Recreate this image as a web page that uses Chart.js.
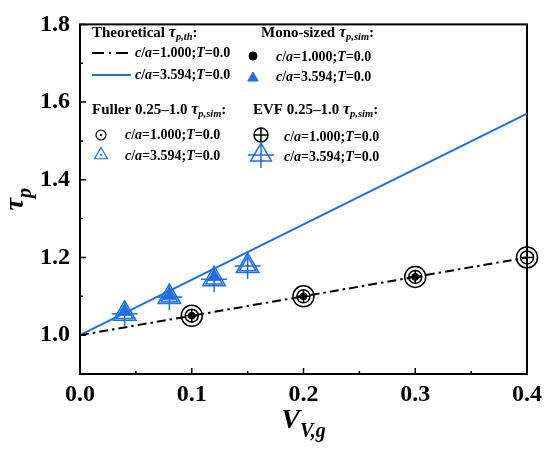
<!DOCTYPE html>
<html>
<head>
<meta charset="utf-8">
<script src="https://cdn.jsdelivr.net/npm/chart.js@4.4.1/dist/chart.umd.min.js"></script>
<style>
  html, body { margin: 0; padding: 0; background: #fff; }
  canvas { display: block; }
</style>
</head>
<body>
<canvas id="chart" width="550" height="450"></canvas>
<script>
const xTicks = [0.0, 0.1, 0.2, 0.3, 0.4];
const xMinorTicks = [0.05, 0.15, 0.25, 0.35];
const yTicks = [1.0, 1.2, 1.4, 1.6, 1.8];
const yMinorTicks = [1.1, 1.3, 1.5, 1.7];

// theoretical lines
const theoryX = [0.0, 0.4];
const theoryRound = [1.0, 1.2];    // c/a=1.000
const theoryElong = [1.0, 1.57];   // c/a=3.594

// simulations, c/a=1.000
const roundX = [0.1, 0.2, 0.3, 0.4];
const roundMono = [1.05, 1.10, 1.15];
const roundFuller = [1.05, 1.10, 1.15, 1.20];
const roundEvf = [1.05, 1.10, 1.15, 1.20];

// simulations, c/a=3.594
const elongX = [0.04, 0.08, 0.12, 0.15];
const elongMono = [1.06, 1.10, 1.15];
const elongFuller = [1.055, 1.098, 1.144, 1.178];
const elongEvf = [1.055, 1.098, 1.144, 1.178];

const groupTitles = ["Theoretical", "Mono-sized", "Fuller 0.25–1.0", "EVF 0.25–1.0"];
const groupSubs = ["p,th", "p,sim", "p,sim", "p,sim"];
const seriesLabels = ["c/a=1.000;T=0.0", "c/a=3.594;T=0.0"];

const BLUE = "#1f6fe0";
const BLACK = "#000";
const SERIF = '"Liberation Serif", "Times New Roman", serif';

const pts = (xs, ys) => ys.map((y, i) => ({ x: xs[i], y }));

function markerSet(data, color, style, radius, filled, width) {
    return {
        type: "scatter",
        data,
        pointStyle: style,
        pointRadius: radius,
        pointHoverRadius: radius,
        pointBorderColor: color,
        pointBackgroundColor: filled ? color : "transparent",
        pointBorderWidth: width,
        clip: false
    };
}

function lineSet(data, color, dash) {
    return {
        type: "line",
        data,
        borderColor: color,
        borderWidth: 2,
        borderDash: dash,
        pointRadius: 0,
        fill: false
    };
}

// legend markers, drawn the same way as chart.js point styles
function drawMarker(ctx, style, x, y, r, color, filled, lw) {
    ctx.save();
    ctx.strokeStyle = color;
    ctx.fillStyle = color;
    ctx.lineWidth = lw;
    ctx.beginPath();
    if (style === "circle") ctx.arc(x, y, r, 0, Math.PI * 2);
    else if (style === "triangle") {
        for (let k = 0; k < 3; k++) {
            const a = k * 2 * Math.PI / 3;
            const px = x + Math.sin(a) * r, py = y - Math.cos(a) * r;
            k ? ctx.lineTo(px, py) : ctx.moveTo(px, py);
        }
        ctx.closePath();
    } else {
        ctx.moveTo(x - r, y); ctx.lineTo(x + r, y);
        ctx.moveTo(x, y - r); ctx.lineTo(x, y + r);
    }
    if (filled) ctx.fill();
    ctx.stroke();
    ctx.restore();
}

function drawRuns(ctx, runs, x, y) {
    runs.forEach(r => {
        ctx.font = r.font;
        ctx.fillText(r.t, x, y + (r.dy || 0));
        x += ctx.measureText(r.t).width;
    });
    return x;
}

function runsWidth(ctx, runs) {
    return runs.reduce((w, r) => { ctx.font = r.font; return w + ctx.measureText(r.t).width; }, 0);
}

// letters italic, everything bold
function labelRuns(text, size) {
    return text.split(/([A-Za-z]+)/).filter(Boolean).map(t => ({
        t, font: (/[A-Za-z]/.test(t) ? "italic " : "") + `bold ${size}px ${SERIF}`
    }));
}

function headerRuns(title, sub) {
    return [
        { t: title + " ", font: `bold 15px ${SERIF}` },
        { t: "τ", font: `italic bold 16px ${SERIF}` },
        { t: sub, font: `italic bold 10.5px ${SERIF}`, dy: 4 },
        { t: ":", font: `bold 15px ${SERIF}` }
    ];
}

const frameAndTicks = {
    id: "frameAndTicks",
    beforeDatasetsDraw(chart) {
        const { ctx, chartArea: a, scales: { x, y } } = chart;
        ctx.save();
        ctx.strokeStyle = BLACK;
        ctx.lineWidth = 1.5;
        ctx.beginPath();
        const tick = (list, len) => {
            list.forEach(v => {
                const px = x.getPixelForValue(v);
                ctx.moveTo(px, a.bottom); ctx.lineTo(px, a.bottom - len);
            });
        };
        tick(xTicks, 6); tick(xMinorTicks, 3);
        [[yTicks, 6], [yMinorTicks, 3]].forEach(([list, len]) => list.forEach(v => {
            const py = y.getPixelForValue(v);
            ctx.moveTo(a.left, py); ctx.lineTo(a.left + len, py);
        }));
        ctx.stroke();
        ctx.lineWidth = 2;
        ctx.strokeRect(a.left, a.top, a.right - a.left, a.bottom - a.top);
        ctx.restore();
    }
};

const legendAndTitles = {
    id: "legendAndTitles",
    afterDraw(chart) {
        const { ctx, chartArea: a } = chart;
        ctx.save();
        ctx.fillStyle = BLACK;
        ctx.textBaseline = "middle";

        // group headers
        [[92, 33], [261, 33], [92, 110], [253, 110]].forEach(([hx, hy], i) => {
            drawRuns(ctx, headerRuns(groupTitles[i], groupSubs[i]), hx, hy);
        });

        // theoretical lines
        ctx.save();
        ctx.lineWidth = 2;
        ctx.strokeStyle = BLACK;
        ctx.setLineDash([12, 5, 2, 5]);
        ctx.beginPath(); ctx.moveTo(92, 53); ctx.lineTo(131, 53); ctx.stroke();
        ctx.setLineDash([]);
        ctx.strokeStyle = BLUE;
        ctx.beginPath(); ctx.moveTo(92, 75); ctx.lineTo(131, 75); ctx.stroke();
        ctx.restore();
        drawRuns(ctx, labelRuns(seriesLabels[0], 14), 135, 53);
        drawRuns(ctx, labelRuns(seriesLabels[1], 14), 135, 75);

        // mono-sized
        drawMarker(ctx, "circle", 253, 56, 4, BLACK, true, 1);
        drawMarker(ctx, "triangle", 253, 78, 6, BLUE, true, 1);
        drawRuns(ctx, labelRuns(seriesLabels[0], 14), 276, 57);
        drawRuns(ctx, labelRuns(seriesLabels[1], 14), 276, 77);

        // fuller
        drawMarker(ctx, "circle", 101, 135, 5, BLACK, false, 1.2);
        drawMarker(ctx, "circle", 101, 135, 0.8, BLACK, true, 1);
        drawMarker(ctx, "triangle", 101, 155, 7.5, BLUE, false, 1.2);
        drawMarker(ctx, "circle", 101, 155, 0.7, BLUE, true, 1);
        drawRuns(ctx, labelRuns(seriesLabels[0], 14), 125, 135);
        drawRuns(ctx, labelRuns(seriesLabels[1], 14), 125, 156);

        // evf
        drawMarker(ctx, "circle", 261, 135, 7, BLACK, false, 1.5);
        drawMarker(ctx, "cross", 261, 135, 7, BLACK, false, 1.5);
        drawMarker(ctx, "triangle", 261, 155, 12, BLUE, false, 1.5);
        drawMarker(ctx, "cross", 261, 155, 13, BLUE, false, 1.5);
        drawRuns(ctx, labelRuns(seriesLabels[0], 14), 284, 137);
        drawRuns(ctx, labelRuns(seriesLabels[1], 14), 284, 157);

        // axis titles
        ctx.textBaseline = "alphabetic";
        const xTitle = [
            { t: "V", font: `italic bold 28px ${SERIF}` },
            { t: "V,g", font: `italic bold 20px ${SERIF}`, dy: 9 }
        ];
        const cx = (a.left + a.right) / 2;
        drawRuns(ctx, xTitle, cx - runsWidth(ctx, xTitle) / 2, 428);

        const yTitle = [
            { t: "τ", font: `italic bold 28px ${SERIF}` },
            { t: "p", font: `italic bold 20px ${SERIF}`, dy: 8 }
        ];
        ctx.translate(23, (a.top + a.bottom) / 2);
        ctx.rotate(-Math.PI / 2);
        drawRuns(ctx, yTitle, -runsWidth(ctx, yTitle) / 2, 0);
        ctx.restore();
    }
};

const tickFont = { family: SERIF, size: 24, weight: "bold" };

new Chart(document.getElementById("chart"), {
    data: {
        datasets: [
            markerSet(pts(roundX, roundMono), BLACK, "circle", 3.5, true, 1),
            markerSet(pts(elongX, elongMono), BLUE, "triangle", 7, true, 1),
            markerSet(pts(roundX, roundEvf), BLACK, "cross", 6.5, false, 1.5),
            markerSet(pts(roundX, roundEvf), BLACK, "circle", 6.5, false, 1.5),
            markerSet(pts(roundX, roundFuller), BLACK, "circle", 1, true, 1),
            markerSet(pts(roundX, roundFuller), BLACK, "circle", 10.5, false, 1.5),
            markerSet(pts(elongX, elongFuller), BLUE, "circle", 1, true, 1),
            markerSet(pts(elongX, elongFuller), BLUE, "triangle", 9.5, false, 1.5),
            markerSet(pts(elongX, elongEvf), BLUE, "cross", 13, false, 1.5),
            markerSet(pts(elongX, elongEvf), BLUE, "triangle", 13, false, 1.5),
            lineSet(pts(theoryX, theoryRound), BLACK, [9, 4, 2.5, 4]),
            lineSet(pts(theoryX, theoryElong), BLUE, [])
        ]
    },
    options: {
        responsive: false,
        animation: false,
        layout: { padding: { top: 14, right: 23, left: 0, bottom: 0 } },
        plugins: { legend: { display: false }, tooltip: { enabled: false } },
        scales: {
            x: {
                type: "linear", min: 0, max: 0.4,
                grid: { display: false, drawTicks: false },
                border: { display: false },
                afterBuildTicks: s => { s.ticks = xTicks.map(value => ({ value })); },
                afterFit: s => { s.height = 76; },
                ticks: { font: tickFont, color: BLACK, padding: 6, maxRotation: 0, callback: v => v.toFixed(1) }
            },
            y: {
                type: "linear", min: 0.9, max: 1.8,
                grid: { display: false, drawTicks: false },
                border: { display: false },
                afterBuildTicks: s => { s.ticks = yTicks.map(value => ({ value })); },
                afterFit: s => { s.width = 80; },
                ticks: { font: tickFont, color: BLACK, padding: 10, callback: v => v.toFixed(1) }
            }
        }
    },
    plugins: [frameAndTicks, legendAndTitles]
});
</script>
</body>
</html>
